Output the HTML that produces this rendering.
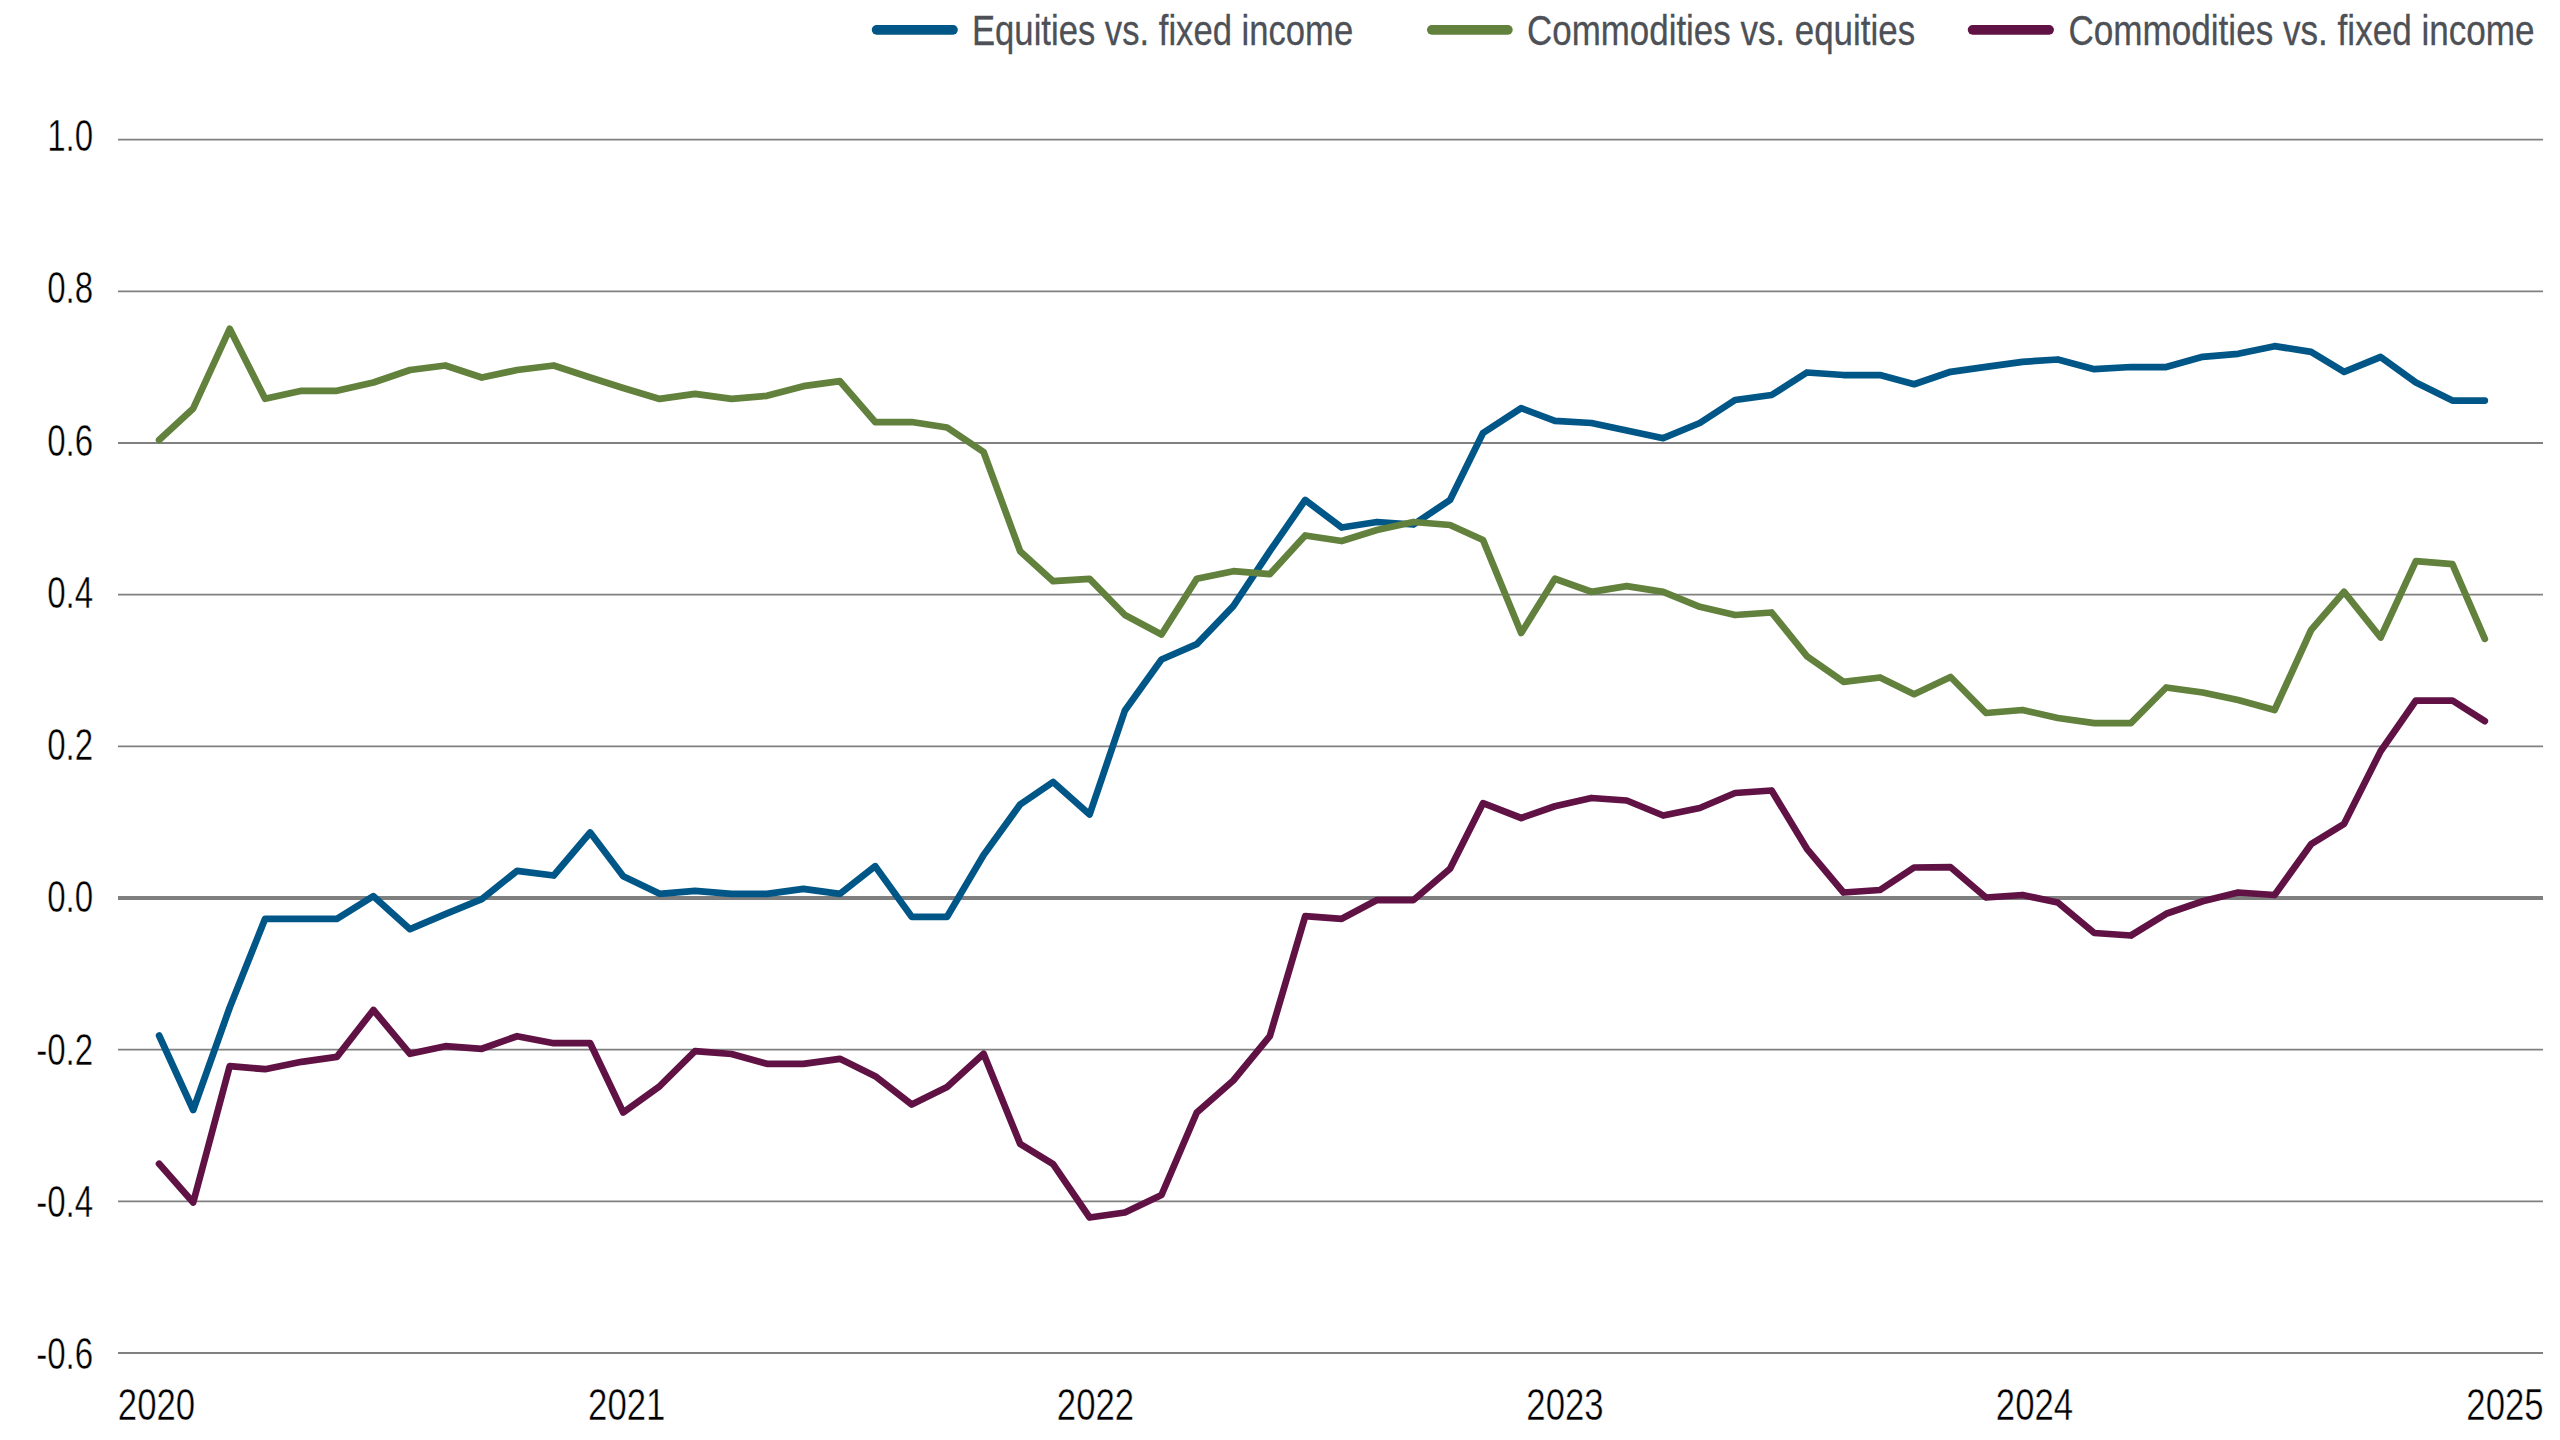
<!DOCTYPE html>
<html lang="en"><head><meta charset="utf-8"><title>Rolling correlations</title>
<style>
html,body{margin:0;padding:0;background:#fff;}
body{width:2560px;height:1440px;overflow:hidden;}
svg{display:block;}
.ax{font-family:"Liberation Sans",sans-serif;font-size:44.4px;fill:#000;stroke:#fff;stroke-width:0.45px;}
.lg{font-family:"Liberation Sans",sans-serif;font-size:43.1px;fill:#4d5157;stroke:#4d5157;stroke-width:0.3px;}
.s{fill:none;stroke-width:6.75;stroke-linejoin:round;stroke-linecap:round;}
</style></head><body>
<svg width="2560" height="1440" viewBox="0 0 2560 1440">
<rect width="2560" height="1440" fill="#fff"/>
<g stroke="#808080" stroke-width="1.8">
<line x1="118" x2="2543" y1="139.70" y2="139.70"/>
<line x1="118" x2="2543" y1="291.36" y2="291.36"/>
<line x1="118" x2="2543" y1="443.02" y2="443.02"/>
<line x1="118" x2="2543" y1="594.68" y2="594.68"/>
<line x1="118" x2="2543" y1="746.34" y2="746.34"/>
<line x1="118" x2="2543" y1="898.00" y2="898.00" stroke-width="4.2" stroke="#7f7f7f"/>
<line x1="118" x2="2543" y1="1049.66" y2="1049.66"/>
<line x1="118" x2="2543" y1="1201.32" y2="1201.32"/>
<line x1="118" x2="2543" y1="1352.98" y2="1352.98"/>
</g>
<text class="ax" text-anchor="end" transform="translate(93.2,151.2) scale(0.746,1)">1.0</text>
<text class="ax" text-anchor="end" transform="translate(93.2,303.4) scale(0.746,1)">0.8</text>
<text class="ax" text-anchor="end" transform="translate(93.2,455.7) scale(0.746,1)">0.6</text>
<text class="ax" text-anchor="end" transform="translate(93.2,607.9) scale(0.746,1)">0.4</text>
<text class="ax" text-anchor="end" transform="translate(93.2,760.2) scale(0.746,1)">0.2</text>
<text class="ax" text-anchor="end" transform="translate(93.2,912.4) scale(0.746,1)">0.0</text>
<text class="ax" text-anchor="end" transform="translate(93.2,1064.6) scale(0.746,1)">-0.2</text>
<text class="ax" text-anchor="end" transform="translate(93.2,1216.9) scale(0.746,1)">-0.4</text>
<text class="ax" text-anchor="end" transform="translate(93.2,1369.1) scale(0.746,1)">-0.6</text>
<text class="ax" transform="translate(117.8,1420.3) scale(0.783,1)">2020</text>
<text class="ax" transform="translate(588.1,1420.3) scale(0.783,1)">2021</text>
<text class="ax" transform="translate(1056.8,1420.3) scale(0.783,1)">2022</text>
<text class="ax" transform="translate(1526.3,1420.3) scale(0.783,1)">2023</text>
<text class="ax" transform="translate(1995.8,1420.3) scale(0.783,1)">2024</text>
<text class="ax" transform="translate(2466.3,1420.3) scale(0.783,1)">2025</text>
<polyline class="s" stroke="#005687" points="159.1,1035.5 193.2,1110.0 229.7,1007.5 265.1,918.8 301.6,918.8 336.9,918.8 373.4,896.2 410.0,929.2 445.3,914.2 481.8,899.2 517.1,870.8 553.7,875.5 590.2,832.5 623.2,876.2 659.7,893.8 695.0,890.8 731.5,893.8 766.9,893.8 803.4,888.8 839.9,893.8 875.2,866.2 911.7,916.8 947.1,916.8 983.6,855.0 1020.1,804.5 1053.1,782.0 1089.6,814.5 1124.9,710.5 1161.5,659.5 1196.8,644.2 1233.3,606.2 1269.8,551.2 1305.2,500.0 1341.7,527.5 1377.0,522.0 1413.5,524.5 1450.0,500.0 1483.0,433.0 1521.2,408.2 1554.9,420.8 1591.4,423.0 1626.7,430.5 1663.2,438.2 1699.8,423.0 1735.1,400.0 1771.6,395.0 1806.9,372.5 1843.5,375.0 1880.0,375.0 1914.1,384.2 1950.6,371.8 1986.0,366.8 2022.5,361.8 2057.8,359.5 2094.3,369.2 2130.9,367.0 2166.2,367.0 2202.7,356.8 2238.1,353.8 2274.6,346.2 2311.1,351.8 2344.1,371.8 2380.6,357.0 2415.9,382.5 2452.4,400.5 2484.8,400.5"/>
<polyline class="s" stroke="#62813c" points="159.1,440.0 193.2,408.4 229.7,328.8 265.1,398.8 301.6,390.8 336.9,390.8 373.4,382.5 410.0,370.0 445.3,365.5 481.8,377.5 517.1,370.0 553.7,365.5 590.2,377.5 623.2,388.0 659.7,398.9 695.0,393.9 731.5,398.9 766.9,395.8 803.4,386.2 839.9,381.2 875.2,422.0 911.7,422.0 947.1,427.5 983.6,452.0 1020.1,551.2 1053.1,581.2 1089.6,578.8 1124.9,615.0 1161.5,634.5 1196.8,578.8 1233.3,571.2 1269.8,574.2 1305.2,535.5 1341.7,541.0 1377.0,530.0 1413.5,522.0 1450.0,525.0 1483.0,540.0 1521.2,633.0 1554.9,578.8 1591.4,591.8 1626.7,586.2 1663.2,591.8 1699.8,606.8 1735.1,615.0 1771.6,612.5 1806.9,656.2 1843.5,681.8 1880.0,677.5 1914.1,694.2 1950.6,677.0 1986.0,713.0 2022.5,710.0 2057.8,718.0 2094.3,723.2 2130.9,723.2 2166.2,687.5 2202.7,692.5 2238.1,700.0 2274.6,710.0 2311.1,630.0 2344.1,591.8 2380.6,637.5 2415.9,561.2 2452.4,564.2 2484.8,638.8"/>
<polyline class="s" stroke="#611245" points="159.1,1163.8 193.2,1202.5 229.7,1066.2 265.1,1069.2 301.6,1061.8 336.9,1056.8 373.4,1010.0 410.0,1053.8 445.3,1046.2 481.8,1048.8 517.1,1036.2 553.7,1043.2 590.2,1043.2 623.2,1112.5 659.7,1086.2 695.0,1051.2 731.5,1054.0 766.9,1063.8 803.4,1063.8 839.9,1058.8 875.2,1076.2 911.7,1104.5 947.1,1087.0 983.6,1053.8 1020.1,1143.8 1053.1,1164.2 1089.6,1217.5 1124.9,1212.5 1161.5,1195.0 1196.8,1112.5 1233.3,1080.5 1269.8,1036.2 1305.2,916.2 1341.7,918.8 1377.0,900.0 1413.5,900.0 1450.0,868.8 1483.0,803.2 1521.2,818.0 1554.9,806.2 1591.4,798.0 1626.7,800.5 1663.2,815.5 1699.8,808.0 1735.1,793.0 1771.6,790.5 1806.9,848.8 1843.5,892.5 1880.0,890.0 1914.1,867.5 1950.6,867.2 1986.0,897.5 2022.5,895.0 2057.8,902.5 2094.3,933.0 2130.9,935.5 2166.2,913.8 2202.7,901.2 2238.1,892.5 2274.6,895.0 2311.1,844.2 2344.1,823.8 2380.6,751.2 2415.9,700.5 2452.4,700.5 2484.8,721.2"/>
<line x1="876.6" x2="953" y1="29.85" y2="29.85" stroke="#005687" stroke-width="9.7" stroke-linecap="round"/>
<text class="lg" transform="translate(972,45.0) scale(0.804,1)">Equities vs. fixed income</text>
<line x1="1431.8" x2="1507.9" y1="29.85" y2="29.85" stroke="#62813c" stroke-width="9.7" stroke-linecap="round"/>
<text class="lg" transform="translate(1527.0,45.0) scale(0.8102,1)">Commodities vs. equities</text>
<line x1="1972.6" x2="2049.1" y1="29.85" y2="29.85" stroke="#611245" stroke-width="9.7" stroke-linecap="round"/>
<text class="lg" transform="translate(2068.4,45.0) scale(0.8147,1)">Commodities vs. fixed income</text>
</svg></body></html>
